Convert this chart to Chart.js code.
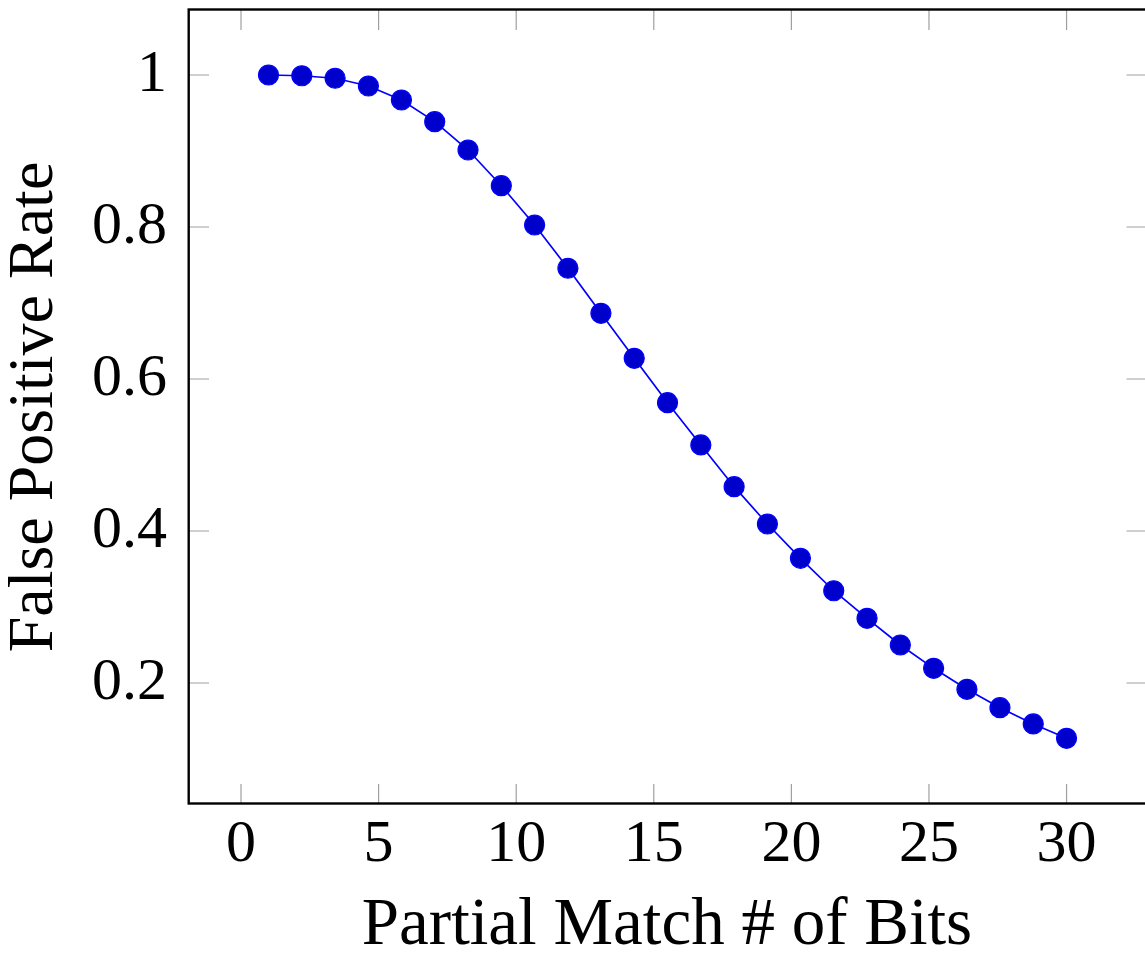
<!DOCTYPE html>
<html>
<head>
<meta charset="utf-8">
<script src="https://cdn.jsdelivr.net/npm/chart.js@4/dist/chart.umd.min.js"></script>
<style>
  html, body { margin: 0; padding: 0; background: #ffffff; }
  #wrap { width: 1145px; height: 958px; }
</style>
</head>
<body>
<div id="wrap"><canvas id="c" width="1145" height="958"></canvas></div>
<script>
// ---- data ----
const matchBits = [1, 2.21, 3.42, 4.63, 5.83, 7.04, 8.25, 9.46, 10.67, 11.88, 13.08, 14.29, 15.5,
                   16.71, 17.92, 19.13, 20.33, 21.54, 22.75, 23.96, 25.17, 26.38, 27.58, 28.79, 30];
const falsePositiveRate = [1.000, 0.999, 0.9957, 0.9855, 0.9671, 0.9386, 0.9013, 0.8543, 0.8026,
                           0.7457, 0.6864, 0.6272, 0.5688, 0.5132, 0.4583, 0.4092, 0.3641, 0.3214,
                           0.2851, 0.2500, 0.2193, 0.1917, 0.1675, 0.1461, 0.1272];
const xTickValues = [0, 5, 10, 15, 20, 25, 30];
const xTickLabels = ['0', '5', '10', '15', '20', '25', '30'];
const yTickValues = [0.2, 0.4, 0.6, 0.8, 1];
const yTickLabels = ['0.2', '0.4', '0.6', '0.8', '1'];
const xTitle = 'Partial Match # of Bits';
const yTitle = 'False Positive Rate';

const FONT = "'Liberation Serif', 'Times New Roman', serif";

const points = matchBits.map((x, i) => ({ x: x, y: falsePositiveRate[i] }));

function zeroPadding(s) {
  s.paddingTop = 0; s.paddingBottom = 0; s.paddingLeft = 0; s.paddingRight = 0;
}

// frame + inward tick marks on all four sides (pgfplots style)
const framePlugin = {
  id: 'frame',
  afterDatasetsDraw(chart) {
    const { ctx, chartArea: a, scales } = chart;
    const len = 20;
    const rightEdge = a.right + 1.5; // the right border sits just past the picture edge
    ctx.save();
    ctx.strokeStyle = '#a0a0a0';
    ctx.lineWidth = 1.2;
    ctx.beginPath();
    scales.x.ticks.forEach(t => {
      const px = scales.x.getPixelForValue(t.value);
      ctx.moveTo(px, a.bottom); ctx.lineTo(px, a.bottom - len);
      ctx.moveTo(px, a.top); ctx.lineTo(px, a.top + len);
    });
    scales.y.ticks.forEach(t => {
      const py = scales.y.getPixelForValue(t.value);
      ctx.moveTo(a.left, py); ctx.lineTo(a.left + len, py);
      ctx.moveTo(rightEdge, py); ctx.lineTo(rightEdge - len, py);
    });
    ctx.stroke();
    ctx.strokeStyle = '#000000';
    ctx.lineWidth = 2.4;
    ctx.strokeRect(a.left - 0.3, a.top - 0.5, rightEdge - a.left + 1.5, a.bottom - a.top);
    ctx.restore();
  }
};

new Chart(document.getElementById('c'), {
  type: 'line',
  data: {
    datasets: [{
      data: points,
      borderColor: '#0000ff',
      borderWidth: 1.7,
      tension: 0,
      fill: false,
      pointRadius: 10,
      pointHoverRadius: 10,
      pointBackgroundColor: '#0000cc',
      pointBorderColor: '#0000ff',
      pointBorderWidth: 1.2,
      clip: false
    }]
  },
  options: {
    responsive: false,
    animation: false,
    events: [],
    layout: { autoPadding: false, padding: { top: 10, right: 0, left: 0, bottom: 0 } },
    plugins: { legend: { display: false }, tooltip: { enabled: false } },
    scales: {
      x: {
        type: 'linear',
        min: -1.89,
        max: 32.85,
        grid: { display: false, drawTicks: false },
        border: { display: false },
        afterBuildTicks: s => { s.ticks = xTickValues.map(v => ({ value: v })); },
        afterFit: s => { s.height = 154; zeroPadding(s); },
        ticks: {
          padding: 5,
          color: '#000',
          font: { family: FONT, size: 60, lineHeight: 1.2 },
          maxRotation: 0,
          callback: (v, i) => xTickLabels[i]
        },
        title: {
          display: true,
          text: xTitle,
          color: '#000',
          font: { family: FONT, size: 67, lineHeight: 1.1 },
          padding: { top: 0, bottom: -5 }
        }
      },
      y: {
        type: 'linear',
        min: 0.0408,
        max: 1.0855,
        grid: { display: false, drawTicks: false },
        border: { display: false },
        afterBuildTicks: s => { s.ticks = yTickValues.map(v => ({ value: v })); },
        afterFit: s => { s.width = 189; zeroPadding(s); },
        ticks: {
          padding: 22,
          color: '#000',
          font: { family: FONT, size: 60, lineHeight: 1.2 },
          callback: (v, i) => yTickLabels[i]
        },
        title: {
          display: true,
          text: yTitle,
          color: '#000',
          font: { family: FONT, size: 64, lineHeight: 1.1 },
          padding: 0
        }
      }
    }
  },
  plugins: [framePlugin]
});
</script>
</body>
</html>
